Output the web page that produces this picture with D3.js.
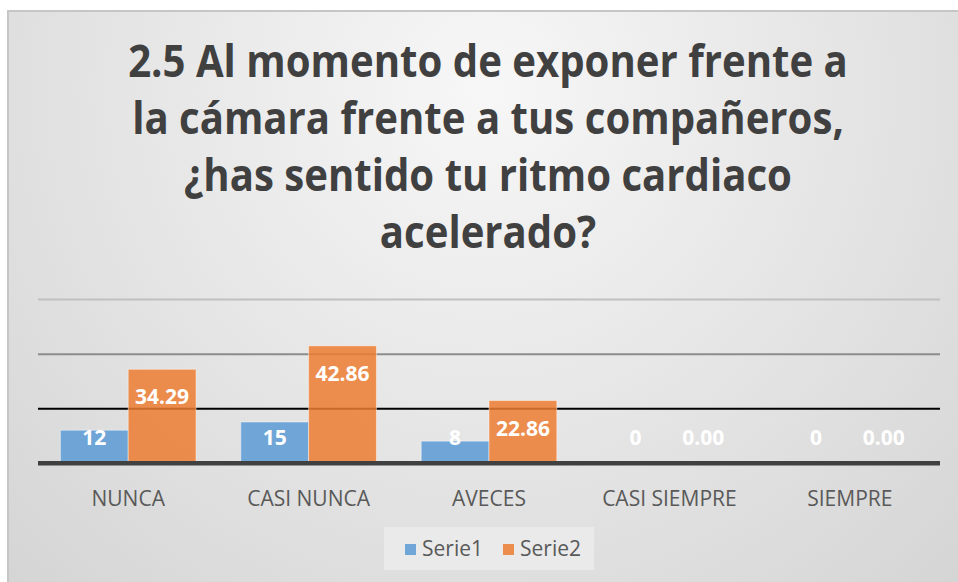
<!DOCTYPE html>
<html>
<head>
<meta charset="utf-8">
<script src="https://cdn.jsdelivr.net/npm/d3@7"></script>
<style>
  html, body { margin: 0; padding: 0; background: #fff; }
  svg { display: block; font-family: "Open Sans", sans-serif; }
</style>
</head>
<body>
<svg id="chart" width="958" height="582"></svg>
<script>
// data
const categories = ["NUNCA", "CASI NUNCA", "AVECES", "CASI SIEMPRE", "SIEMPRE"]
const seriesNames = ["Serie1", "Serie2"]
const serie1 = [12, 15, 8, 0, 0]
const serie2 = [34.29, 42.86, 22.86, 0, 0]
const yTicks = [0, 20, 40, 60]
const titleLines = ["2.5 Al momento de exponer frente a", "la cámara frente a tus compañeros,", "¿has sentido tu ritmo cardiaco", "acelerado?"]

const colors = { Serie1: "#5b9bd5", Serie2: "#ed7d31" }
const gridColors = ["#404040", "#000000", "#8c8c8c", "#c0c0c0"]
const gridWidths = [4, 2, 2, 2]

const svg = d3.select("#chart")

// background, frame
const defs = svg.append("defs")
const grad = defs.append("radialGradient")
  .attr("id", "bg")
  .attr("gradientUnits", "userSpaceOnUse")
  .attr("cx", 485).attr("cy", 90).attr("r", 720)
grad.append("stop").attr("offset", 0).attr("stop-color", "#f7f7f7")
grad.append("stop").attr("offset", 1).attr("stop-color", "#d3d3d3")

svg.append("rect")
  .attr("x", 8).attr("y", 11)
  .attr("width", 960).attr("height", 590)
  .attr("fill", "url(#bg)")
  .attr("stroke", "#c6c6c6")
  .attr("stroke-width", 2)

// title
const title = svg.append("g").attr("transform", "translate(488,0)")
const tl = title.selectAll("text")
  .data(titleLines)
  .join("text")
  .attr("x", 0)
  .attr("y", (d, i) => 77 + i * 57)
  .attr("text-anchor", "middle")
  .attr("font-size", 45)
  .attr("font-weight", "bold")
  .attr("fill", "#404040")
  .text(d => d)
const w0 = tl.node().getComputedTextLength()
tl.attr("transform", `scale(${720 / w0},1)`)

// scales
const x0 = d3.scaleBand().domain(categories).range([38, 940]).padding(0)
const x1 = d3.scaleBand().domain(seriesNames).range([0, x0.bandwidth()]).paddingInner(0).paddingOuter(0.33)
const y = d3.scaleLinear().domain([0, 60]).range([463, 299])

// gridlines
const grid = svg.append("g")
  .attr("transform", "translate(38,0)")
  .call(d3.axisLeft(y).tickValues(yTicks).tickSize(-902).tickFormat(""))
grid.select(".domain").remove()
grid.selectAll(".tick line")
  .attr("stroke", (d, i) => gridColors[i])
  .attr("stroke-width", (d, i) => gridWidths[i])

const rows = categories.map((c, i) => ({ cat: c, vals: [
  { key: "Serie1", v: serie1[i] },
  { key: "Serie2", v: serie2[i] }
]}))

const groups = svg.append("g").selectAll("g")
  .data(rows)
  .join("g")
  .attr("transform", d => `translate(${x0(d.cat)},0)`)

groups.selectAll("rect")
  .data(d => d.vals)
  .join("rect")
  .attr("x", d => x1(d.key))
  .attr("y", d => y(d.v))
  .attr("width", x1.bandwidth())
  .attr("height", d => y(0) - y(d.v))
  .attr("fill", d => colors[d.key])
  .attr("fill-opacity", 0.85)
  .attr("stroke", "#ffffff")
  .attr("stroke-opacity", 0.45)
  .attr("stroke-width", 1)

// baseline on top of bars
svg.append("line")
  .attr("x1", 38).attr("x2", 940)
  .attr("y1", y(0)).attr("y2", y(0))
  .attr("stroke", gridColors[0]).attr("stroke-width", gridWidths[0])

// data labels
groups.selectAll("text")
  .data(d => d.vals)
  .join("text")
  .attr("x", d => x1(d.key) + x1.bandwidth() / 2)
  .attr("y", d => Math.min(y(d.v) + 35, y(0) - 18))
  .attr("text-anchor", "middle")
  .attr("font-size", 21)
  .attr("font-weight", "bold")
  .attr("fill", "#ffffff")
  .text(d => d.key === "Serie2" ? d.v.toFixed(2) : d.v)

// x axis labels
const xAxis = svg.append("g")
  .attr("transform", `translate(0,${y(0)})`)
  .call(d3.axisBottom(x0).tickSize(0).tickPadding(28))
xAxis.select(".domain").remove()
xAxis.selectAll("text")
  .attr("font-family", "Open Sans, sans-serif")
  .attr("font-size", 21)
  .attr("fill", "#595959")

// legend
const legend = svg.append("g")
legend.append("rect")
  .attr("x", 384).attr("y", 527)
  .attr("width", 210).attr("height", 43)
  .attr("fill", "#f2f2f2").attr("fill-opacity", 0.55)
const li = legend.selectAll("g")
  .data(seriesNames)
  .join("g")
  .attr("transform", (d, i) => `translate(${405 + i * 98},0)`)
li.append("rect")
  .attr("x", 0).attr("y", 544)
  .attr("width", 11).attr("height", 11)
  .attr("fill", d => colors[d]).attr("fill-opacity", 0.85)
li.append("text")
  .attr("x", 17).attr("y", 556)
  .attr("font-size", 21)
  .attr("fill", "#595959")
  .text(d => d)
</script>
</body>
</html>
